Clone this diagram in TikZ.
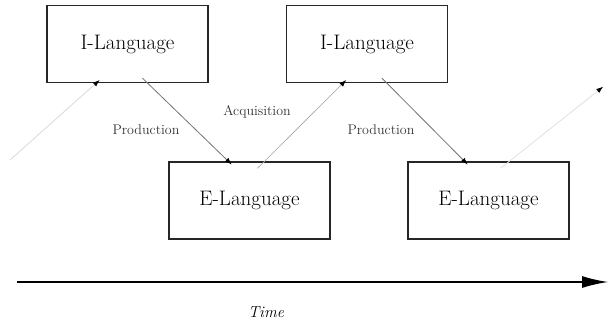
\documentclass[tikz,border=0pt]{standalone}
\usetikzlibrary{arrows.meta}
\begin{document}
\begin{tikzpicture}[x=1pt,y=-1pt,
  langbox/.style={draw=black!85,line width=1.4pt,minimum width=161pt,minimum height=77pt,inner sep=0pt,font=\fontsize{21}{24}\selectfont},
  lbl/.style={font=\fontsize{14}{16}\selectfont,text=black!80},
  arr/.style={line width=0.8pt,shorten >=1pt,-{Latex[length=7pt,width=5pt,color=black]}}]
\useasboundingbox (0,0) rectangle (608,325);
\node[langbox] (i1) at (127.5,44) {I-Language};
\node[langbox] (i2) at (367,44) {I-Language};
\node[langbox] (e1) at (249.5,200.5) {E-Language};
\node[langbox] (e2) at (488.5,200.5) {E-Language};
\coordinate (s0) at (10,160);
\coordinate (t0) at (604,86);
\draw[arr,draw=black!15] (s0) -- ([xshift=-27pt,yshift=4pt]i1.south);
\draw[arr,draw=black!55] ([xshift=15pt,yshift=5pt]i1.south) -- ([xshift=-17pt,yshift=-4pt]e1.north);
\draw[arr,draw=black!30] ([xshift=8pt,yshift=-7pt]e1.north) -- ([xshift=-20pt,yshift=4pt]i2.south);
\draw[arr,draw=black!55] ([xshift=15pt,yshift=5pt]i2.south) -- ([xshift=-20pt,yshift=-4pt]e2.north);
\draw[arr,draw=black!12] ([xshift=12pt,yshift=-7pt]e2.north) -- (t0);
\node[lbl] (p1) at (146,130) {Production};
\node[lbl] (aq) at (257,112) {Acquisition};
\node[lbl] (p2) at (381,130) {Production};
\coordinate (ta) at (17,282);
\coordinate (tb) at (608,282);
\draw[line width=1.4pt,-{Latex[length=26pt,width=12pt]}] (ta) -- (tb);
\node[font=\fontsize{16}{18}\selectfont\itshape] (time) at (266,312) {Time};
\end{tikzpicture}
\end{document}
